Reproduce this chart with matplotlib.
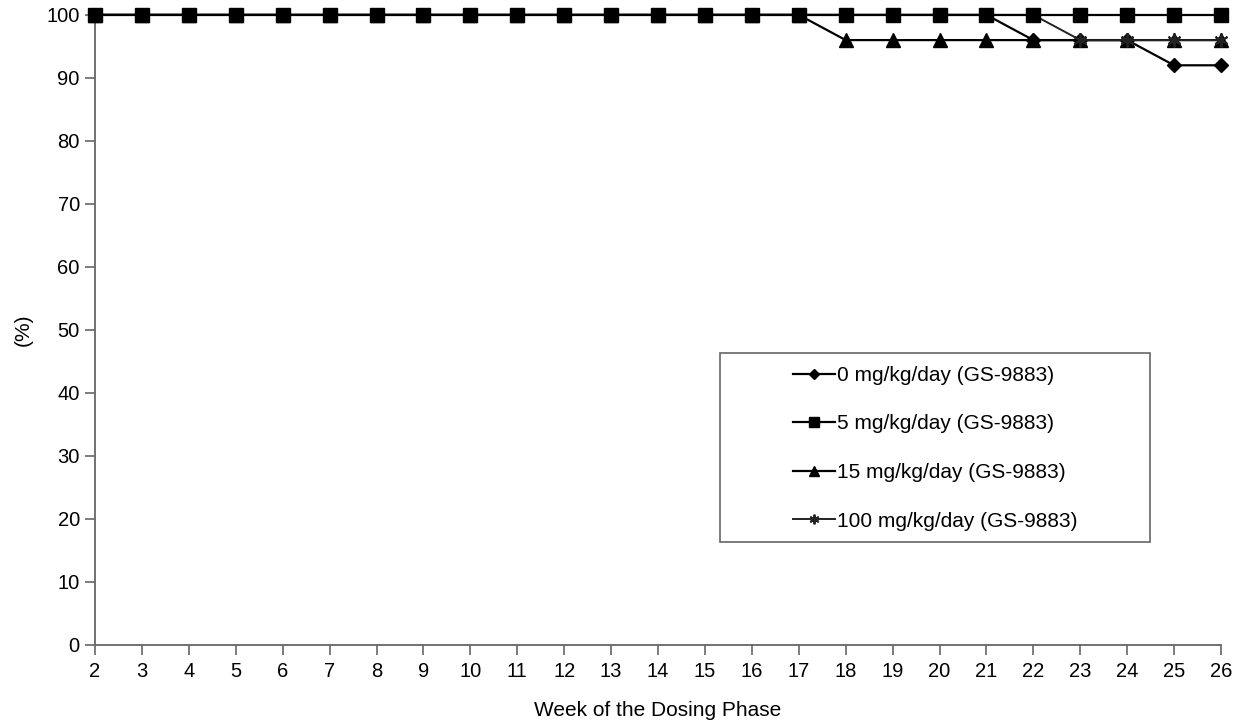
import matplotlib
matplotlib.use("Agg")
import matplotlib.pyplot as plt
from matplotlib.patches import Rectangle

plt.rcParams["font.family"] = ["Liberation Sans", "DejaVu Sans"]

weeks = list(range(2, 27))
pct_0 = [100] * 20 + [96, 96, 96, 92, 92]
pct_5 = [100] * 25
pct_15 = [100] * 16 + [96] * 9
pct_100 = [100] * 21 + [96] * 4
labels = ["0 mg/kg/day (GS-9883)", "5 mg/kg/day (GS-9883)",
          "15 mg/kg/day (GS-9883)", "100 mg/kg/day (GS-9883)"]

fig = plt.figure(figsize=(12.41, 7.23), dpi=100)
ax = fig.add_axes([0.0766, 0.108, 0.9073, 0.8714])

ax.plot(weeks, pct_0, color="black", lw=1.6, marker="D", ms=7, label=labels[0], zorder=3, clip_on=False)
ax.plot(weeks, pct_5, color="black", lw=1.6, marker="s", ms=9.5, label=labels[1], zorder=6, clip_on=False)
ax.plot(weeks, pct_15, color="black", lw=1.6, marker="^", ms=9.5, label=labels[2], zorder=4, clip_on=False)
ax.plot(weeks, pct_100, color="#222222", lw=1.4, marker=(6, 2, 0), ms=10, mew=1.4,
        label=labels[3], zorder=5, clip_on=False)

ax.set_xlim(2, 26)
ax.set_ylim(0, 100)
ax.set_xticks(weeks)
ax.set_yticks(range(0, 101, 10))
for s in ["top", "right"]:
    ax.spines[s].set_visible(False)
for s in ["left", "bottom"]:
    ax.spines[s].set_color("#666666")
    ax.spines[s].set_linewidth(1.3)
ax.tick_params(direction="out", length=7, width=1.2, color="#666666", labelsize=14.5)
ax.tick_params(axis="x", pad=5)
ax.tick_params(axis="y", pad=4)
ax.set_xlabel("Week of the Dosing Phase", fontsize=15, labelpad=15)
ax.set_ylabel("(%)", fontsize=15, labelpad=10)

# legend entries centred inside a plain box
ax.add_patch(Rectangle((0.555, 0.1635), 0.382, 0.300, transform=ax.transAxes, fill=True,
                       facecolor="white", edgecolor="#666666", lw=1.2, zorder=7, clip_on=False))
leg = ax.legend(loc="upper center", bbox_to_anchor=(0.746, 0.4429), fontsize=15, frameon=False,
                borderpad=0, labelspacing=1.42, handlelength=2.0, handletextpad=0.1,
                markerscale=0.7, borderaxespad=0)
leg.set_zorder(8)

plt.savefig("out.png", dpi=100)
